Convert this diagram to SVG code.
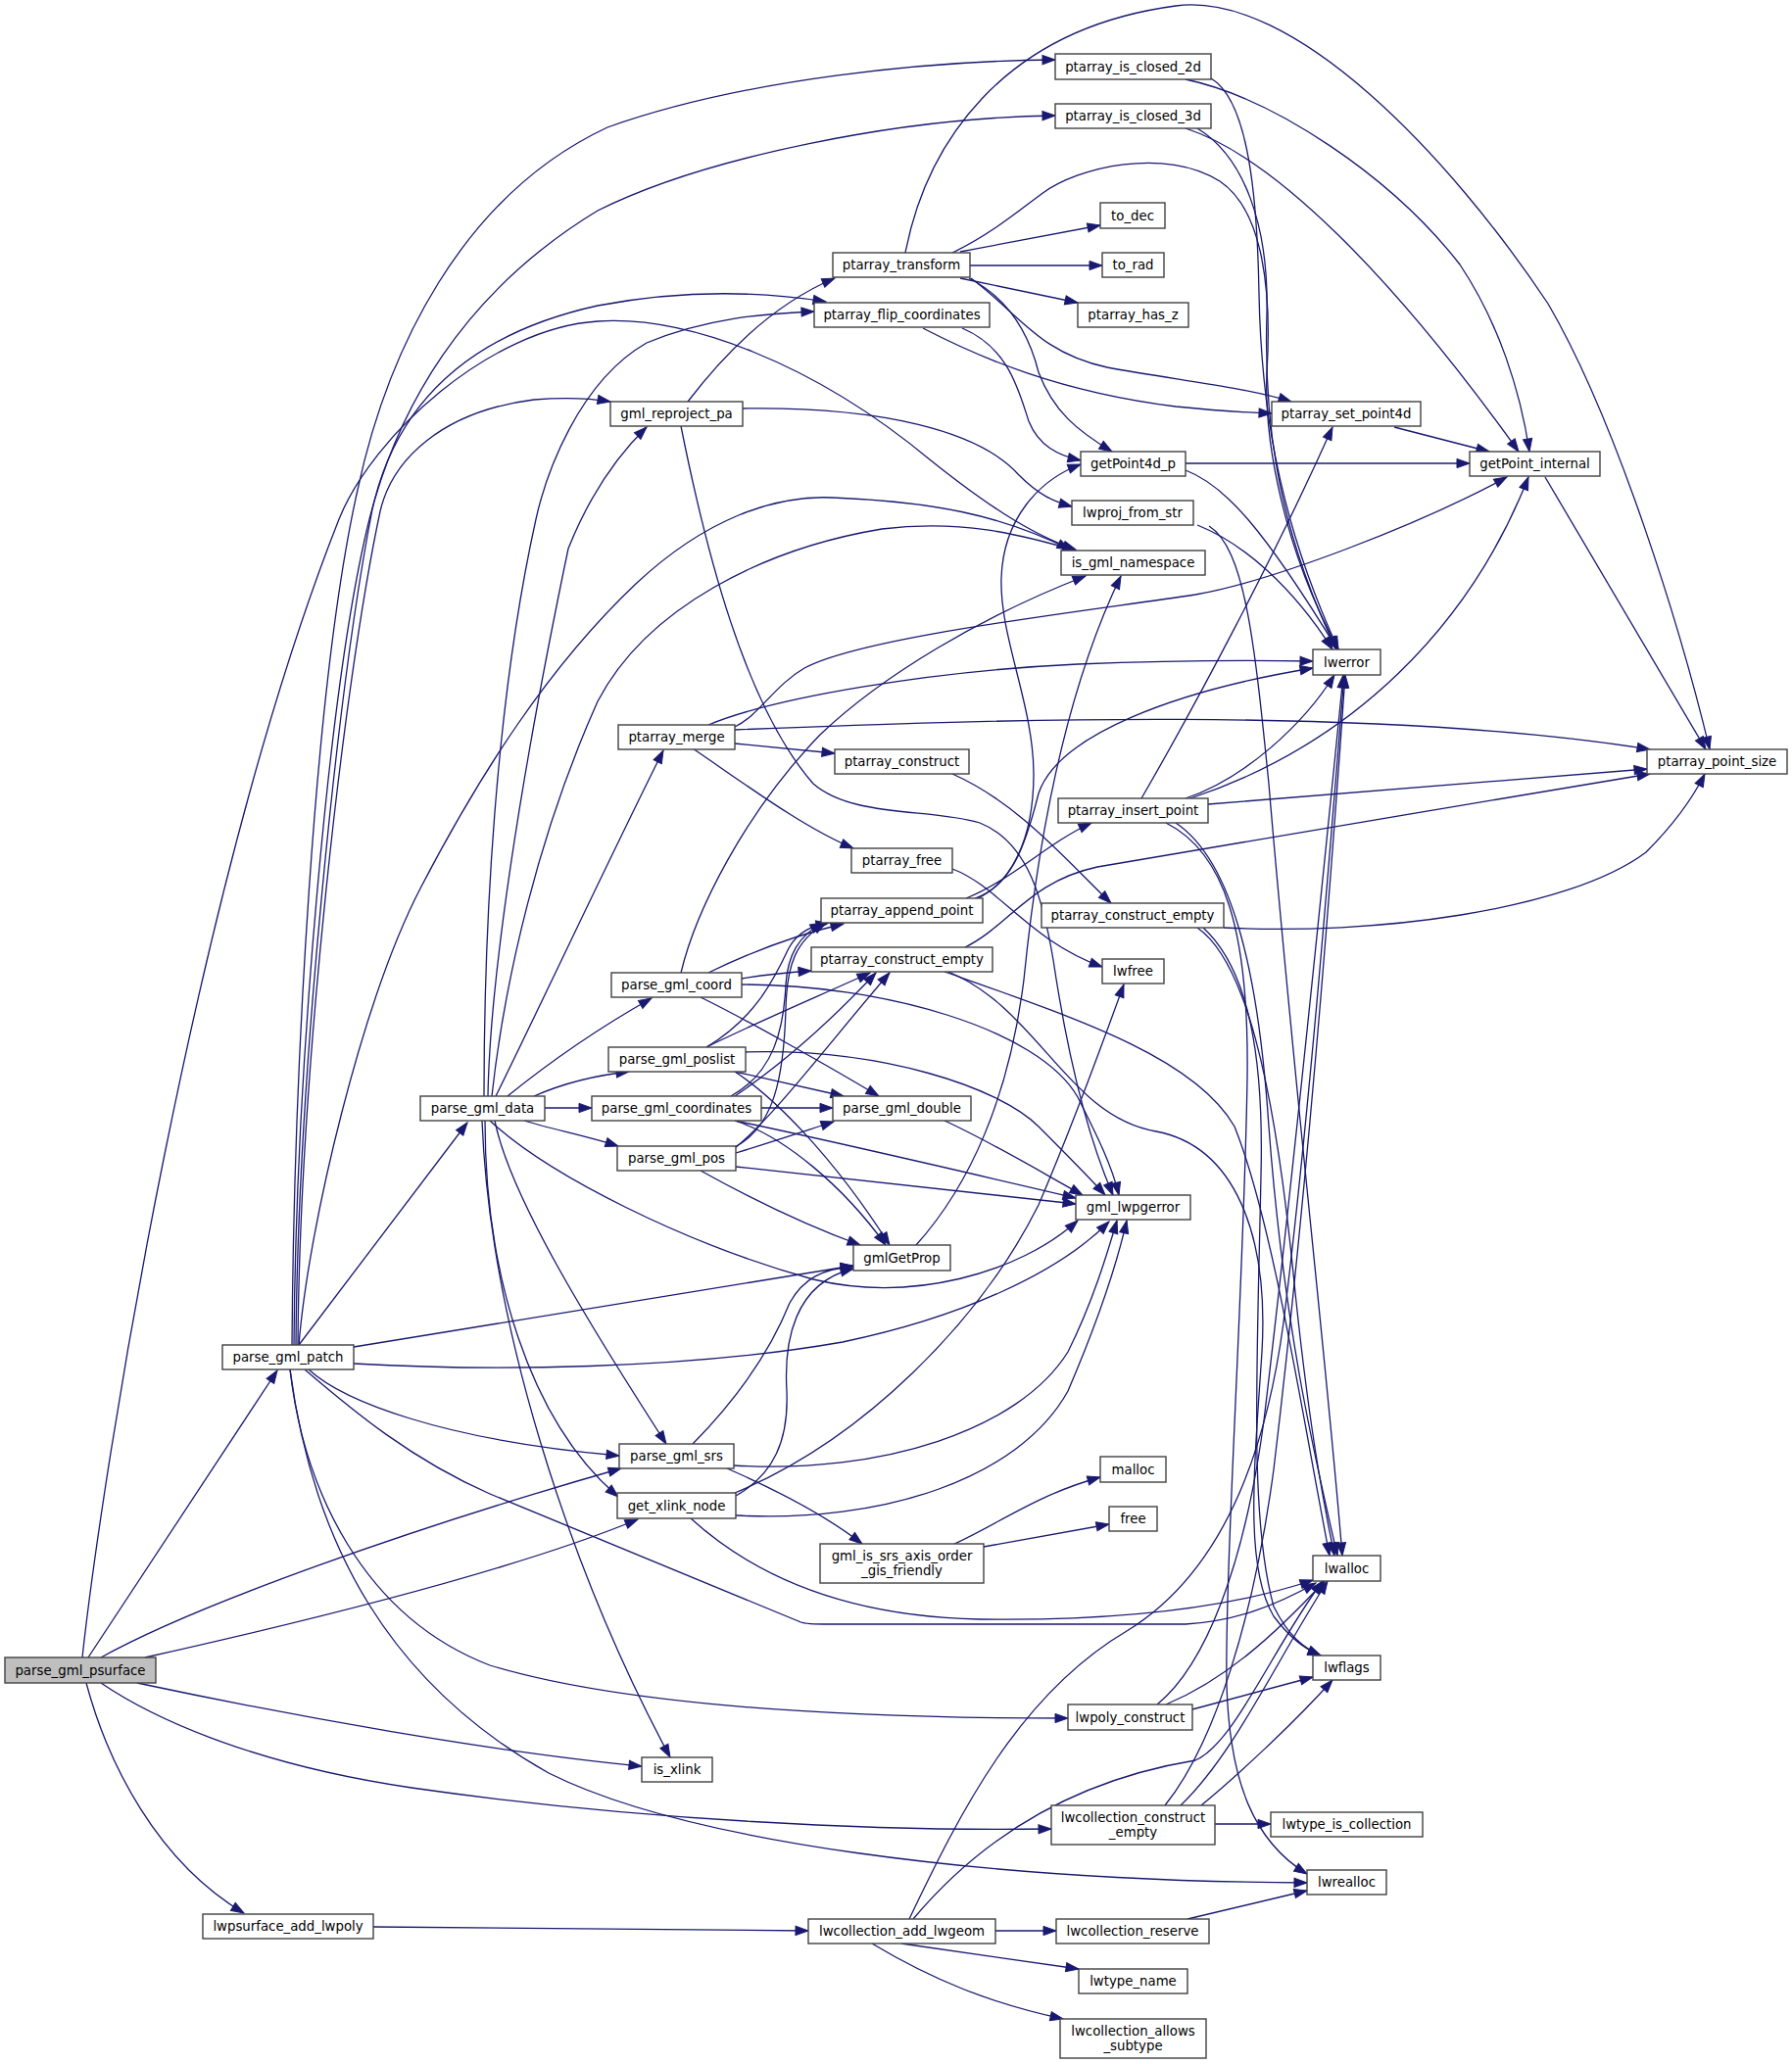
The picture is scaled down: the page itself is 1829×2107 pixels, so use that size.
<svg xmlns="http://www.w3.org/2000/svg" width="1829" height="2107" viewBox="0 0 1829 2107">
<style>
.node rect{fill:#ffffff;stroke:#404040;stroke-width:1.4}
.node rect.hl{fill:#bfbfbf}
.node text{font-family:"DejaVu Sans","Liberation Sans",sans-serif;font-size:13.3px;text-anchor:middle;fill:#000000}
.edges path{fill:none;stroke:#191970;stroke-width:1.3;marker-end:url(#arr)}
</style>
<defs>
<marker id="arr" markerUnits="userSpaceOnUse" markerWidth="16" markerHeight="12" refX="13" refY="5" orient="auto" overflow="visible">
<path d="M0,0.4 L13,5 L0,9.6 z" fill="#191970" stroke="#191970" stroke-width="1"/>
</marker>
</defs>
<rect x="0" y="0" width="1829" height="2107" fill="#ffffff"/>
<g id="edges" class="edges">
<!-- parse_gml_psurface -->
<path d="M90,1692 L283,1399"/>
<path d="M103,1692 C200,1638 420,1560 634,1499"/>
<path d="M148,1692 C300,1658 520,1605 651,1551"/>
<path d="M140,1718 C300,1752 500,1788 655,1803"/>
<path d="M103,1718 C150,1750 250,1800 420,1825 C650,1858 900,1870 1073,1867"/>
<path d="M88,1718 C110,1800 160,1900 249,1953"/>
<path d="M84,1692 C105,1500 200,900 346,530 C380,445 500,335 610,328 C700,322 830,370 950,470 C1000,510 1050,545 1098,561"/>
<!-- parse_gml_patch -->
<path d="M298,1373 C300,1100 320,700 365,500 C395,360 470,200 620,130 C760,80 950,62 1077,61"/>
<path d="M300,1373 C302,1100 335,700 377,530 C405,420 470,300 610,215 C720,160 920,120 1077,118"/>
<path d="M302,1373 C304,1100 345,700 380,520 C400,430 460,345 610,312 C700,295 780,298 843,308"/>
<path d="M304,1373 C306,1100 350,700 388,522 C400,470 450,420 545,408 C580,405 605,407 623,410"/>
<path d="M305,1373 C315,1250 370,1020 430,905 C490,790 560,680 650,595 C720,530 790,505 850,508 C950,512 1020,525 1092,561"/>
<path d="M305,1373 L477,1146"/>
<path d="M361,1375 L871,1292"/>
<path d="M361,1392 C500,1400 700,1398 860,1370 C980,1345 1080,1300 1132,1247"/>
<path d="M315,1398 C350,1430 450,1470 632,1486"/>
<path d="M311,1398 C360,1440 420,1490 500,1525 L815,1655 C820,1658 830,1658 840,1658 L1210,1658 C1260,1655 1300,1640 1343,1616"/>
<path d="M296,1398 C310,1520 370,1650 500,1700 C650,1745 900,1754 1090,1754"/>
<path d="M296,1398 C320,1580 400,1720 560,1810 C700,1880 1000,1920 1334,1922"/>
<!-- parse_gml_data -->
<path d="M494,1119 C494,950 505,720 547,530 C557,485 590,390 660,350 C720,325 780,320 831,318"/>
<path d="M498,1119 C500,1000 530,800 580,560 C600,510 625,470 660,436"/>
<path d="M502,1119 C515,1000 550,850 610,716 C660,620 780,560 900,540 C980,530 1040,545 1098,562"/>
<path d="M506,1119 C550,1030 620,880 677,766"/>
<path d="M518,1119 C560,1085 610,1050 665,1019"/>
<path d="M545,1119 C570,1108 605,1098 642,1094"/>
<path d="M556,1131 L604,1131"/>
<path d="M535,1144 C560,1152 600,1160 631,1170"/>
<path d="M500,1144 C560,1200 700,1270 830,1306 C930,1330 1040,1300 1100,1246"/>
<path d="M505,1144 C520,1220 600,1350 680,1474"/>
<path d="M495,1144 C495,1300 540,1450 631,1528"/>
<path d="M492,1144 C500,1350 580,1600 684,1794"/>
<!-- parse_gml_coord -->
<path d="M695,993 C710,930 760,830 837,750 C900,690 1000,630 1108,588"/>
<path d="M723,993 C760,975 810,955 861,943"/>
<path d="M757,999 C780,995 800,993 828,991"/>
<path d="M715,1018 C760,1040 840,1085 897,1119"/>
<path d="M757,1005 C900,1005 1060,1050 1100,1120 C1120,1160 1135,1190 1142,1220"/>
<!-- parse_gml_poslist -->
<path d="M721,1069 C770,1040 790,1000 805,968 C815,950 830,945 846,942"/>
<path d="M721,1069 C780,1040 840,1015 888,993"/>
<path d="M750,1094 L861,1119"/>
<path d="M761,1074 C900,1070 1020,1110 1060,1150 C1090,1180 1110,1200 1128,1220"/>
<path d="M750,1094 C790,1120 850,1180 908,1271"/>
<!-- parse_gml_coordinates -->
<path d="M746,1119 C790,1095 800,1050 802,1005 C804,975 815,955 840,942"/>
<path d="M750,1119 C800,1085 850,1040 894,993"/>
<path d="M777,1131 L850,1131"/>
<path d="M750,1144 C850,1165 1000,1200 1098,1223"/>
<path d="M750,1144 C800,1160 860,1210 904,1271"/>
<!-- parse_gml_pos -->
<path d="M750,1171 C790,1150 800,1100 802,1030 C803,985 812,960 843,942"/>
<path d="M750,1172 C790,1140 850,1060 908,993"/>
<path d="M751,1177 C790,1165 820,1155 851,1145"/>
<path d="M751,1191 L1098,1229"/>
<path d="M715,1195 C760,1220 820,1250 878,1271"/>
<!-- parse_gml_double -->
<path d="M964,1144 C1010,1165 1060,1195 1105,1220"/>
<!-- parse_gml_srs -->
<path d="M707,1474 C760,1420 790,1370 806,1330 C820,1305 840,1295 871,1293"/>
<path d="M749,1496 C900,1505 1040,1460 1090,1380 C1115,1330 1130,1280 1140,1246"/>
<path d="M742,1499 C790,1520 840,1545 880,1576"/>
<!-- get_xlink_node -->
<path d="M751,1527 C790,1505 805,1470 803,1420 C800,1370 810,1310 871,1295"/>
<path d="M750,1524 C880,1470 1000,1350 1060,1230 C1090,1160 1120,1080 1147,1005"/>
<path d="M751,1547 C900,1555 1040,1510 1090,1420 C1120,1350 1140,1290 1150,1246"/>
<path d="M705,1550 C760,1600 850,1650 1000,1653 C1150,1655 1260,1640 1340,1613"/>
<!-- gml_is_srs_axis_order_gis_friendly -->
<path d="M974,1576 C1020,1555 1060,1525 1123,1508"/>
<path d="M1004,1579 L1132,1556"/>
<!-- gml_reproject_pa -->
<path d="M702,410 C740,360 790,310 852,284"/>
<path d="M758,417 C900,415 1000,440 1040,485 C1060,505 1075,512 1094,517"/>
<path d="M695,435 C720,560 760,720 830,800 C870,835 950,825 1000,840 C1050,860 1065,920 1075,980 C1090,1080 1110,1160 1136,1220"/>
<!-- ptarray_transform -->
<path d="M924,258 C945,150 1020,30 1200,6 C1320,-10 1480,160 1580,310 C1650,430 1715,640 1745,765"/>
<path d="M972,258 C1010,240 1040,215 1063,198 C1100,170 1190,150 1245,185 C1290,215 1298,300 1293,380 C1290,450 1310,560 1366,663"/>
<path d="M980,257 L1123,230"/>
<path d="M990,271 L1125,271"/>
<path d="M980,284 L1100,309"/>
<path d="M991,284 C1040,320 1060,360 1130,375 C1200,388 1270,395 1318,410"/>
<path d="M989,284 C1030,305 1050,340 1060,380 C1075,420 1100,440 1135,461"/>
<!-- ptarray_flip_coordinates -->
<path d="M942,335 C1000,365 1080,400 1200,415 C1240,419 1270,421 1298,422"/>
<path d="M982,335 C1030,355 1040,400 1050,430 C1060,455 1080,465 1103,470"/>
<!-- getPoint4d_p / set_point4d / getPoint_internal -->
<path d="M1210,473 L1500,473"/>
<path d="M1210,480 C1250,495 1290,540 1365,663"/>
<path d="M1423,436 L1520,461"/>
<path d="M1577,487 L1741,765"/>
<!-- ptarray_is_closed_2d / 3d -->
<path d="M1210,81 C1300,100 1420,180 1490,270 C1530,330 1552,400 1561,461"/>
<path d="M1236,80 C1270,100 1283,180 1285,300 C1287,400 1300,520 1366,663"/>
<path d="M1210,131 C1300,160 1420,280 1550,461"/>
<path d="M1222,131 C1270,160 1295,230 1293,320 C1290,420 1300,530 1364,663"/>
<!-- lwproj_from_str -->
<path d="M1222,536 C1270,555 1320,600 1360,663"/>
<path d="M1234,537 C1270,560 1280,650 1295,800 C1320,1100 1355,1400 1370,1588"/>
<!-- ptarray_merge -->
<path d="M750,759 L852,769"/>
<path d="M707,764 C760,800 820,845 871,866"/>
<path d="M723,740 C790,712 950,685 1100,678 C1200,674 1280,674 1340,675"/>
<path d="M750,745 C1000,735 1400,720 1684,765"/>
<path d="M750,742 C775,730 790,700 821,682 C880,650 1100,625 1220,607 C1300,593 1450,535 1538,487"/>
<!-- ptarray_construct / ptarray_free -->
<path d="M972,790 C1040,820 1090,880 1134,922"/>
<path d="M972,887 C1020,905 1050,960 1125,987"/>
<!-- ptarray_append_point -->
<path d="M986,917 C1030,900 1070,860 1114,840"/>
<path d="M995,917 C1030,905 1045,870 1060,810 C1080,750 1200,705 1340,682"/>
<path d="M998,917 C1030,902 1055,860 1055,790 C1055,720 1020,650 1022,590 C1024,530 1060,490 1103,474"/>
<!-- ptarray_insert_point -->
<path d="M1165,815 C1220,720 1300,570 1360,436"/>
<path d="M1210,815 C1270,795 1330,740 1362,689"/>
<path d="M1215,815 C1380,760 1500,640 1560,487"/>
<path d="M1233,821 L1681,785"/>
<path d="M1190,840 C1250,870 1275,950 1273,1100 C1270,1300 1250,1600 1252,1720 C1255,1820 1280,1880 1334,1913"/>
<path d="M1200,840 C1260,880 1285,1000 1295,1150 C1310,1350 1340,1480 1365,1588"/>
<!-- ptarray_construct_empty (right) -->
<path d="M1222,947 C1270,980 1300,1100 1320,1300 C1335,1450 1350,1530 1362,1588"/>
<path d="M1228,947 C1275,990 1290,1080 1287,1200 C1283,1400 1275,1550 1300,1640 C1315,1670 1330,1682 1348,1690"/>
<path d="M1249,947 C1400,955 1600,930 1680,870 C1710,840 1730,810 1740,790"/>
<!-- ptarray_construct_empty (middle) -->
<path d="M985,967 C1030,945 1050,900 1120,885 C1300,855 1500,820 1684,790"/>
<path d="M964,992 C1100,1040 1220,1080 1260,1150 C1300,1250 1330,1450 1357,1588"/>
<path d="M968,992 C1060,1030 1090,1140 1180,1155 C1260,1170 1295,1260 1288,1380 C1280,1500 1270,1600 1300,1650 C1315,1670 1330,1683 1348,1690"/>
<!-- lwpoly_construct -->
<path d="M1190,1740 C1250,1715 1300,1670 1352,1614"/>
<path d="M1217,1745 L1340,1712"/>
<path d="M1181,1740 C1230,1700 1270,1600 1290,1450 C1320,1200 1350,900 1371,689"/>
<!-- lwcollection_construct_empty -->
<path d="M1240,1862 L1297,1862"/>
<path d="M1189,1843 C1240,1780 1280,1650 1300,1500 C1330,1250 1355,950 1373,689"/>
<path d="M1205,1843 C1260,1790 1300,1700 1355,1614"/>
<path d="M1226,1843 C1260,1815 1320,1760 1360,1715"/>
<!-- lwcollection_add_lwgeom -->
<path d="M928,1959 C980,1850 1040,1730 1150,1665 C1240,1610 1290,1500 1310,1350 C1335,1150 1355,900 1372,689"/>
<path d="M932,1959 C990,1890 1080,1820 1220,1797 C1260,1780 1300,1680 1350,1614"/>
<path d="M1016,1971 L1078,1971"/>
<path d="M920,1984 L1101,2010"/>
<path d="M890,1984 C950,2020 1010,2045 1085,2061"/>
<!-- lwcollection_reserve / lwpsurface_add_lwpoly / gmlGetProp -->
<path d="M1212,1959 L1334,1930"/>
<path d="M381,1967 L825,1971"/>
<path d="M935,1271 C990,1210 1030,1120 1045,1000 C1060,850 1090,700 1144,588"/>
</g>
<g id="n_psurface" class="node"><rect class="hl" x="5" y="1692" width="154" height="26"/><text x="82" y="1709.5">parse_gml_psurface</text></g>
<g id="n_patch" class="node"><rect x="227" y="1373" width="134" height="25"/><text x="294" y="1390">parse_gml_patch</text></g>
<g id="n_addpoly" class="node"><rect x="207" y="1954" width="174" height="25"/><text x="294" y="1971">lwpsurface_add_lwpoly</text></g>
<g id="n_data" class="node"><rect x="429" y="1119" width="127" height="25"/><text x="492.5" y="1136">parse_gml_data</text></g>
<g id="n_closed2d" class="node"><rect x="1077" y="55" width="159" height="26"/><text x="1156.5" y="72.5">ptarray_is_closed_2d</text></g>
<g id="n_closed3d" class="node"><rect x="1077" y="106" width="159" height="25"/><text x="1156.5" y="123">ptarray_is_closed_3d</text></g>
<g id="n_todec" class="node"><rect x="1123" y="207" width="66" height="26"/><text x="1156" y="224.5">to_dec</text></g>
<g id="n_transform" class="node"><rect x="850" y="258" width="140" height="25"/><text x="920" y="275">ptarray_transform</text></g>
<g id="n_torad" class="node"><rect x="1125" y="258" width="63" height="25"/><text x="1156.5" y="275">to_rad</text></g>
<g id="n_flip" class="node"><rect x="831" y="309" width="179" height="25"/><text x="920.5" y="326">ptarray_flip_coordinates</text></g>
<g id="n_hasz" class="node"><rect x="1100" y="309" width="113" height="25"/><text x="1156.5" y="326">ptarray_has_z</text></g>
<g id="n_reproject" class="node"><rect x="623" y="410" width="135" height="25"/><text x="690.5" y="427">gml_reproject_pa</text></g>
<g id="n_setp4d" class="node"><rect x="1298" y="410" width="152" height="25"/><text x="1374" y="427">ptarray_set_point4d</text></g>
<g id="n_getp4d" class="node"><rect x="1103" y="461" width="107" height="25"/><text x="1156.5" y="478">getPoint4d_p</text></g>
<g id="n_getpi" class="node"><rect x="1500" y="461" width="133" height="25"/><text x="1566.5" y="478">getPoint_internal</text></g>
<g id="n_projstr" class="node"><rect x="1094" y="511" width="124" height="25"/><text x="1156" y="528">lwproj_from_str</text></g>
<g id="n_isgmlns" class="node"><rect x="1083" y="562" width="147" height="25"/><text x="1156.5" y="579">is_gml_namespace</text></g>
<g id="n_lwerror" class="node"><rect x="1340" y="663" width="69" height="26"/><text x="1374.5" y="680.5">lwerror</text></g>
<g id="n_merge" class="node"><rect x="631" y="740" width="119" height="25"/><text x="690.5" y="757">ptarray_merge</text></g>
<g id="n_construct" class="node"><rect x="852" y="765" width="137" height="25"/><text x="920.5" y="782">ptarray_construct</text></g>
<g id="n_ptsize" class="node"><rect x="1681" y="765" width="143" height="25"/><text x="1752.5" y="782">ptarray_point_size</text></g>
<g id="n_insert" class="node"><rect x="1080" y="815" width="153" height="25"/><text x="1156.5" y="832">ptarray_insert_point</text></g>
<g id="n_free" class="node"><rect x="869" y="866" width="103" height="25"/><text x="920.5" y="883">ptarray_free</text></g>
<g id="n_append" class="node"><rect x="838" y="917" width="165" height="25"/><text x="920.5" y="934">ptarray_append_point</text></g>
<g id="n_cempty_r" class="node"><rect x="1063" y="922" width="186" height="25"/><text x="1156" y="939">ptarray_construct_empty</text></g>
<g id="n_cempty_m" class="node"><rect x="828" y="967" width="185" height="25"/><text x="920.5" y="984">ptarray_construct_empty</text></g>
<g id="n_lwfree" class="node"><rect x="1125" y="979" width="63" height="25"/><text x="1156.5" y="996">lwfree</text></g>
<g id="n_coord" class="node"><rect x="624" y="993" width="133" height="25"/><text x="690.5" y="1010">parse_gml_coord</text></g>
<g id="n_poslist" class="node"><rect x="621" y="1069" width="140" height="25"/><text x="691" y="1086">parse_gml_poslist</text></g>
<g id="n_coordinates" class="node"><rect x="604" y="1119" width="173" height="25"/><text x="690.5" y="1136">parse_gml_coordinates</text></g>
<g id="n_double" class="node"><rect x="850" y="1119" width="141" height="25"/><text x="920.5" y="1136">parse_gml_double</text></g>
<g id="n_pos" class="node"><rect x="630" y="1170" width="121" height="25"/><text x="690.5" y="1187">parse_gml_pos</text></g>
<g id="n_lwpgerror" class="node"><rect x="1098" y="1220" width="117" height="25"/><text x="1156.5" y="1237">gml_lwpgerror</text></g>
<g id="n_getprop" class="node"><rect x="871" y="1271" width="99" height="26"/><text x="920.5" y="1288.5">gmlGetProp</text></g>
<g id="n_srs" class="node"><rect x="632" y="1474" width="117" height="25"/><text x="690.5" y="1491">parse_gml_srs</text></g>
<g id="n_malloc" class="node"><rect x="1123" y="1487" width="67" height="26"/><text x="1156.5" y="1504.5">malloc</text></g>
<g id="n_xlinknode" class="node"><rect x="630" y="1524" width="121" height="26"/><text x="690.5" y="1541.5">get_xlink_node</text></g>
<g id="n_free2" class="node"><rect x="1132" y="1538" width="49" height="25"/><text x="1156.5" y="1555">free</text></g>
<g id="n_gisfriendly" class="node"><rect x="837" y="1576" width="167" height="40"/><text x="920.5" y="1593">gml_is_srs_axis_order</text><text x="920.5" y="1608">_gis_friendly</text></g>
<g id="n_lwalloc" class="node"><rect x="1340" y="1588" width="69" height="26"/><text x="1374.5" y="1605.5">lwalloc</text></g>
<g id="n_lwflags" class="node"><rect x="1340" y="1690" width="69" height="25"/><text x="1374.5" y="1707">lwflags</text></g>
<g id="n_polyconstruct" class="node"><rect x="1090" y="1740" width="127" height="26"/><text x="1153.5" y="1757.5">lwpoly_construct</text></g>
<g id="n_isxlink" class="node"><rect x="655" y="1794" width="72" height="25"/><text x="691" y="1811">is_xlink</text></g>
<g id="n_collempty" class="node"><rect x="1073" y="1843" width="167" height="40"/><text x="1156.5" y="1860">lwcollection_construct</text><text x="1156.5" y="1875">_empty</text></g>
<g id="n_istypecoll" class="node"><rect x="1297" y="1850" width="155" height="25"/><text x="1374.5" y="1867">lwtype_is_collection</text></g>
<g id="n_lwrealloc" class="node"><rect x="1334" y="1909" width="81" height="25"/><text x="1374.5" y="1926">lwrealloc</text></g>
<g id="n_addgeom" class="node"><rect x="825" y="1959" width="191" height="25"/><text x="920.5" y="1976">lwcollection_add_lwgeom</text></g>
<g id="n_reserve" class="node"><rect x="1078" y="1959" width="156" height="25"/><text x="1156" y="1976">lwcollection_reserve</text></g>
<g id="n_typename" class="node"><rect x="1101" y="2010" width="111" height="25"/><text x="1156.5" y="2027">lwtype_name</text></g>
<g id="n_allows" class="node"><rect x="1082" y="2061" width="149" height="40"/><text x="1156.5" y="2078">lwcollection_allows</text><text x="1156.5" y="2093">_subtype</text></g>
</svg>
